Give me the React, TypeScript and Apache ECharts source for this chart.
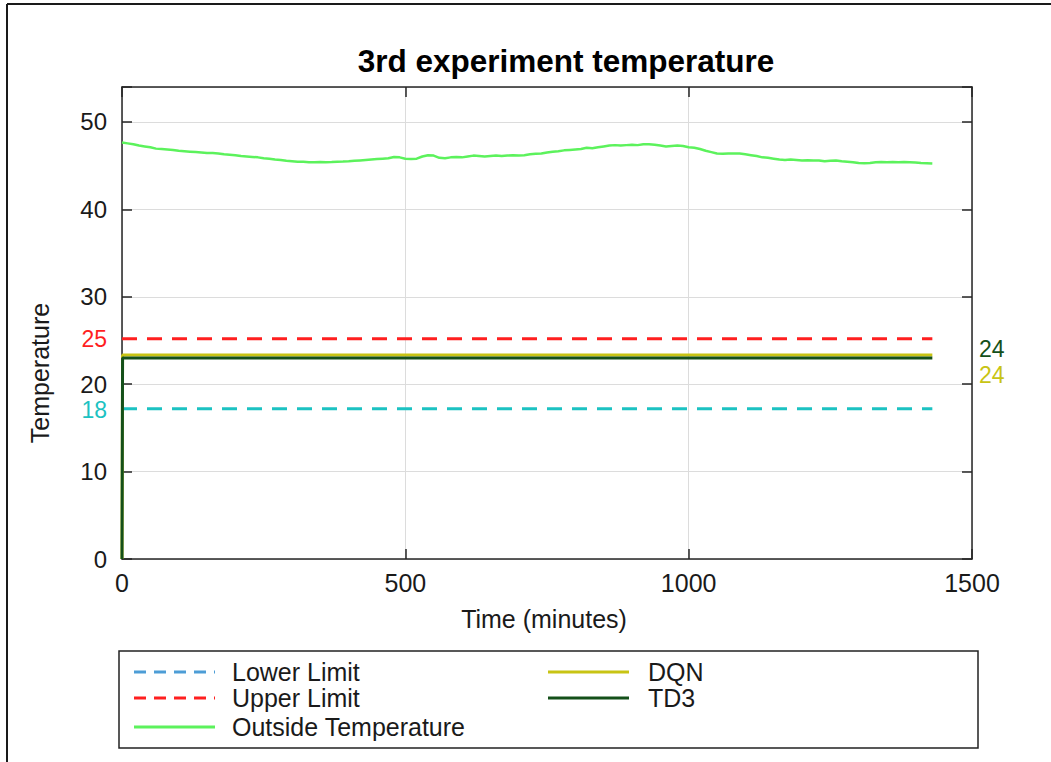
import React, { useEffect, useRef } from "react";
import * as echarts from "echarts";

const FONT = "'Liberation Sans', Arial, Helvetica, sans-serif";

const title = "3rd experiment temperature";
const xName = "Time (minutes)";
const yName = "Temperature";
const xTicks = [0, 500, 1000, 1500];
const yTicks = [0, 10, 20, 30, 40, 50];

const endTime = 1430;
const lowerLimit = 17.2;
const upperLimit = 25.2;
const lowerLabel = "18";
const upperLabel = "25";
const dqnLevel = 23.35;
const td3Level = 23.0;
const td3EndLabel = { text: "24", y: 24.0 };
const dqnEndLabel = { text: "24", y: 21.0 };

const outsideTimes: number[] = [
  0, 10, 20, 30, 40, 50, 60, 70, 80, 90, 100, 110, 120, 130, 140, 150, 160, 170, 180, 190,
  200, 210, 220, 230, 240, 250, 260, 270, 280, 290, 300, 310, 320, 330, 340, 350, 360, 370, 380, 390,
  400, 410, 420, 430, 440, 450, 460, 470, 480, 490, 500, 510, 520, 530, 540, 550, 560, 570, 580, 590,
  600, 610, 620, 630, 640, 650, 660, 670, 680, 690, 700, 710, 720, 730, 740, 750, 760, 770, 780, 790,
  800, 810, 820, 830, 840, 850, 860, 870, 880, 890, 900, 910, 920, 930, 940, 950, 960, 970, 980, 990,
  1000, 1010, 1020, 1030, 1040, 1050, 1060, 1070, 1080, 1090, 1100, 1110, 1120, 1130, 1140, 1150, 1160, 1170, 1180, 1190,
  1200, 1210, 1220, 1230, 1240, 1250, 1260, 1270, 1280, 1290, 1300, 1310, 1320, 1330, 1340, 1350, 1360, 1370, 1380, 1390,
  1400, 1410, 1420, 1430,
];
const outsideTemps: number[] = [
  47.65, 47.55, 47.45, 47.3, 47.2, 47.1, 46.95, 46.9, 46.85, 46.8, 46.7, 46.65, 46.6, 46.55, 46.5, 46.45, 46.45, 46.4, 46.3, 46.25,
  46.2, 46.1, 46.05, 46.0, 45.95, 45.85, 45.8, 45.7, 45.65, 45.55, 45.5, 45.45, 45.45, 45.4, 45.4, 45.42, 45.4, 45.42, 45.45, 45.47,
  45.5, 45.55, 45.6, 45.65, 45.7, 45.75, 45.8, 45.85, 46.0, 45.95, 45.8, 45.75, 45.8, 46.05, 46.2, 46.15, 45.9, 45.85, 45.95, 46.0,
  45.95, 46.05, 46.15, 46.1, 46.05, 46.1, 46.15, 46.1, 46.15, 46.2, 46.15, 46.2, 46.3, 46.35, 46.4, 46.5, 46.6, 46.65, 46.75, 46.8,
  46.85, 46.9, 47.05, 47.0, 47.1, 47.2, 47.3, 47.35, 47.3, 47.35, 47.4, 47.35, 47.45, 47.45, 47.4, 47.3, 47.2, 47.25, 47.3, 47.25,
  47.1, 47.05, 46.9, 46.7, 46.55, 46.4, 46.35, 46.4, 46.38, 46.38, 46.3, 46.2, 46.1, 45.95, 45.9, 45.8, 45.7, 45.65, 45.7, 45.65,
  45.6, 45.62, 45.6, 45.6, 45.5, 45.55, 45.6, 45.5, 45.45, 45.4, 45.3, 45.28, 45.3, 45.38, 45.42, 45.4, 45.42, 45.4, 45.42, 45.4,
  45.35, 45.3, 45.28, 45.25,
];

const C = {
  lower: "#1cc2c2",
  lowerLegend: "#4d9dd6",
  upper: "#ff1f1f",
  outside: "#5cf25c",
  dqn: "#c8c414",
  td3: "#14501a",
  axis: "#262626",
  grid: "#dcdcdc",
  text: "#1a1a1a",
};

export default function App() {
  const ref = useRef<HTMLDivElement>(null);

  useEffect(() => {
    if (!ref.current) return;
    const chart = echarts.init(ref.current, null, { renderer: "svg" });

    const axisCommon = {
      axisLine: { show: true, onZero: false, lineStyle: { color: C.axis, width: 1.5 } },
      axisTick: { show: true, inside: true, length: 10, lineStyle: { color: C.axis, width: 1.5 } },
    };

    const option: any = {
      animation: false,
      backgroundColor: "#ffffff",
      textStyle: { fontFamily: FONT },
      grid: { left: 122, right: 79, top: 87, bottom: 203, containLabel: false },
      xAxis: [
        {
          type: "value",
          position: "bottom",
          min: xTicks[0],
          max: xTicks[xTicks.length - 1],
          interval: xTicks[1] - xTicks[0],
          ...axisCommon,
          axisLabel: { fontSize: 25, color: C.text, margin: 11, fontFamily: FONT, formatter: (v: number) => String(v) },
          splitLine: { show: true, lineStyle: { color: C.grid, width: 1 } },
        },
        {
          type: "value",
          position: "top",
          min: xTicks[0],
          max: xTicks[xTicks.length - 1],
          interval: xTicks[1] - xTicks[0],
          ...axisCommon,
          axisLabel: { show: false },
          splitLine: { show: false },
        },
      ],
      yAxis: [
        {
          type: "value",
          position: "left",
          min: 0,
          max: 54,
          interval: yTicks[1] - yTicks[0],
          ...axisCommon,
          axisLabel: {
            fontSize: 24,
            color: C.text,
            margin: 15,
            fontFamily: FONT,
            formatter: (v: number) => (yTicks.includes(v) ? String(v) : ""),
          },
          splitLine: { show: true, lineStyle: { color: C.grid, width: 1 } },
        },
        {
          type: "value",
          position: "right",
          min: 0,
          max: 54,
          interval: yTicks[1] - yTicks[0],
          ...axisCommon,
          axisLabel: { show: false },
          splitLine: { show: false },
        },
      ],
      series: [
        {
          name: "Lower Limit",
          type: "line",
          showSymbol: false,
          data: [[0, lowerLimit], [endTime, lowerLimit]],
          lineStyle: { color: C.lower, width: 3, type: [15, 10] },
          z: 3,
        },
        {
          name: "Upper Limit",
          type: "line",
          showSymbol: false,
          data: [[0, upperLimit], [endTime, upperLimit]],
          lineStyle: { color: C.upper, width: 3, type: [15, 10] },
          z: 3,
        },
        {
          name: "Outside Temperature",
          type: "line",
          showSymbol: false,
          data: outsideTimes.map((t, i) => [t, outsideTemps[i]]),
          lineStyle: { color: C.outside, width: 2.5 },
          z: 3,
        },
        {
          name: "DQN",
          type: "line",
          showSymbol: false,
          data: [[0, 0], [1, dqnLevel], [endTime, dqnLevel]],
          lineStyle: { color: C.dqn, width: 3 },
          z: 4,
        },
        {
          name: "TD3",
          type: "line",
          showSymbol: false,
          data: [[0, 0], [1, td3Level], [endTime, td3Level]],
          lineStyle: { color: C.td3, width: 3 },
          z: 5,
        },
      ],
    };

    chart.setOption(option);

    const px = (x: number, y: number) => chart.convertToPixel({ gridIndex: 0 }, [x, y]) as number[];
    const pLow = px(0, lowerLimit);
    const pUp = px(0, upperLimit);
    const pTd3 = px(xTicks[xTicks.length - 1], td3EndLabel.y);
    const pDqn = px(xTicks[xTicks.length - 1], dqnEndLabel.y);

    const legendRows = [672, 698, 727];
    const col1Line = [134, 215];
    const col1Text = 232;
    const col2Line = [548, 629];
    const col2Text = 648;

    const legendItems = [
      { name: "Lower Limit", color: C.lowerLegend, dash: [12, 8], x: col1Line, tx: col1Text, y: legendRows[0], w: 3 },
      { name: "Upper Limit", color: C.upper, dash: [12, 8], x: col1Line, tx: col1Text, y: legendRows[1], w: 3 },
      { name: "Outside Temperature", color: C.outside, dash: null, x: col1Line, tx: col1Text, y: legendRows[2], w: 3 },
      { name: "DQN", color: C.dqn, dash: null, x: col2Line, tx: col2Text, y: legendRows[0], w: 3 },
      { name: "TD3", color: C.td3, dash: null, x: col2Line, tx: col2Text, y: legendRows[1], w: 3 },
    ];

    const smallFont = `23px ${FONT}`;

    const graphic: any[] = [
      { type: "line", shape: { x1: 7, y1: 4, x2: 1051, y2: 4 }, style: { stroke: "#1a1a1a", lineWidth: 2 } },
      { type: "line", shape: { x1: 7, y1: 4, x2: 7, y2: 762 }, style: { stroke: "#1a1a1a", lineWidth: 2 } },
      {
        type: "text",
        x: 566,
        y: 61,
        style: {
          text: title,
          font: `bold 31.5px ${FONT}`,
          fill: "#000",
          align: "center",
          verticalAlign: "middle",
        },
      },
      {
        type: "text",
        x: 544,
        y: 619,
        style: { text: xName, font: `25px ${FONT}`, fill: C.text, align: "center", verticalAlign: "middle" },
      },
      {
        type: "text",
        x: 40,
        y: 373,
        rotation: Math.PI / 2,
        style: { text: yName, font: `25px ${FONT}`, fill: C.text, align: "center", verticalAlign: "middle" },
      },
      {
        type: "text",
        x: pUp[0] - 15,
        y: pUp[1],
        style: { text: upperLabel, font: smallFont, fill: C.upper, align: "right", verticalAlign: "middle" },
      },
      {
        type: "text",
        x: pLow[0] - 15,
        y: pLow[1] + 1,
        style: { text: lowerLabel, font: smallFont, fill: C.lower, align: "right", verticalAlign: "middle" },
      },
      {
        type: "text",
        x: pTd3[0] + 7,
        y: pTd3[1],
        style: { text: td3EndLabel.text, font: smallFont, fill: C.td3, align: "left", verticalAlign: "middle" },
      },
      {
        type: "text",
        x: pDqn[0] + 7,
        y: pDqn[1],
        style: { text: dqnEndLabel.text, font: smallFont, fill: C.dqn, align: "left", verticalAlign: "middle" },
      },
      {
        type: "rect",
        shape: { x: 119, y: 651, width: 859, height: 97 },
        style: { fill: "#fff", stroke: "#222", lineWidth: 1.5 },
      },
    ];

    legendItems.forEach((it) => {
      graphic.push({
        type: "line",
        shape: { x1: it.x[0], y1: it.y, x2: it.x[1], y2: it.y },
        style: { stroke: it.color, lineWidth: it.w, lineDash: it.dash || undefined },
      });
      graphic.push({
        type: "text",
        x: it.tx,
        y: it.y,
        style: { text: it.name, font: `25px ${FONT}`, fill: C.text, align: "left", verticalAlign: "middle" },
      });
    });

    chart.setOption({ graphic });

    return () => chart.dispose();
  }, []);

  return (
    <div
      ref={ref}
      style={{ position: "fixed", left: 0, top: 0, width: 1051, height: 762, background: "#fff" }}
    />
  );
}
